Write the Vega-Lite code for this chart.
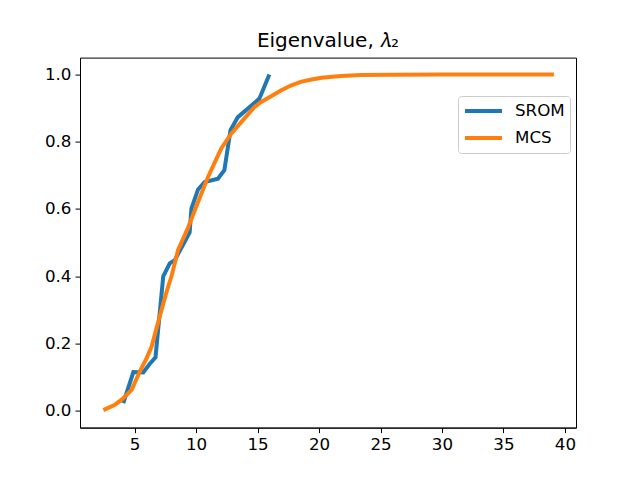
{
  "$schema": "https://vega.github.io/schema/vega-lite/v6.json",
  "width": 496,
  "height": 370,
  "autosize": "none",
  "padding": {"left": 80, "top": 57.6, "right": 64, "bottom": 52.4},
  "background": "white",
  "config": {
    "font": "DejaVu Sans",
    "view": {"stroke": "black", "strokeWidth": 1},
    "axis": {
      "grid": false,
      "domainColor": "black",
      "tickColor": "black",
      "tickSize": 5,
      "labelFontSize": 16.7,
      "labelColor": "black",
      "labelPadding": 4,
      "labelFont": "DejaVu Sans",
      "titleFontSize": 16.7
    }
  },
  "title": {
    "text": "Eigenvalue, 𝜆₂",
    "fontSize": 20,
    "fontWeight": "normal",
    "font": "DejaVu Sans",
    "color": "black",
    "anchor": "middle",
    "offset": 7
  },
  "data": {
    "values": [
      {"series": "SROM", "x": 4.08, "y": 0.023},
      {"series": "SROM", "x": 4.9, "y": 0.115},
      {"series": "SROM", "x": 5.7, "y": 0.114},
      {"series": "SROM", "x": 6.24, "y": 0.14},
      {"series": "SROM", "x": 6.7, "y": 0.159},
      {"series": "SROM", "x": 7.33, "y": 0.40},
      {"series": "SROM", "x": 7.86, "y": 0.438},
      {"series": "SROM", "x": 8.27, "y": 0.448},
      {"series": "SROM", "x": 9.48, "y": 0.53},
      {"series": "SROM", "x": 9.62, "y": 0.601},
      {"series": "SROM", "x": 10.16, "y": 0.658},
      {"series": "SROM", "x": 10.7, "y": 0.68},
      {"series": "SROM", "x": 11.78, "y": 0.69},
      {"series": "SROM", "x": 12.3, "y": 0.715},
      {"series": "SROM", "x": 12.8, "y": 0.834},
      {"series": "SROM", "x": 13.4, "y": 0.873},
      {"series": "SROM", "x": 15.15, "y": 0.928},
      {"series": "SROM", "x": 15.96, "y": 1.0},
      {"series": "MCS", "x": 2.46, "y": 0.002},
      {"series": "MCS", "x": 3.4, "y": 0.018},
      {"series": "MCS", "x": 3.95, "y": 0.033},
      {"series": "MCS", "x": 4.76, "y": 0.062},
      {"series": "MCS", "x": 5.43, "y": 0.117},
      {"series": "MCS", "x": 5.97, "y": 0.156},
      {"series": "MCS", "x": 6.38, "y": 0.19},
      {"series": "MCS", "x": 6.78, "y": 0.245},
      {"series": "MCS", "x": 7.19, "y": 0.30},
      {"series": "MCS", "x": 7.6, "y": 0.354},
      {"series": "MCS", "x": 8.0, "y": 0.40},
      {"series": "MCS", "x": 8.54, "y": 0.478},
      {"series": "MCS", "x": 9.3, "y": 0.54},
      {"series": "MCS", "x": 10.0, "y": 0.606},
      {"series": "MCS", "x": 10.97, "y": 0.695},
      {"series": "MCS", "x": 12.05, "y": 0.78},
      {"series": "MCS", "x": 12.86, "y": 0.824},
      {"series": "MCS", "x": 13.67, "y": 0.858},
      {"series": "MCS", "x": 14.75, "y": 0.903},
      {"series": "MCS", "x": 15.29, "y": 0.918},
      {"series": "MCS", "x": 16.1, "y": 0.935},
      {"series": "MCS", "x": 16.9, "y": 0.952},
      {"series": "MCS", "x": 17.7, "y": 0.967},
      {"series": "MCS", "x": 18.5, "y": 0.978},
      {"series": "MCS", "x": 19.4, "y": 0.985},
      {"series": "MCS", "x": 20.2, "y": 0.99},
      {"series": "MCS", "x": 21.8, "y": 0.995},
      {"series": "MCS", "x": 23.4, "y": 0.998},
      {"series": "MCS", "x": 26.0, "y": 0.999},
      {"series": "MCS", "x": 30.0, "y": 1.0},
      {"series": "MCS", "x": 39.1, "y": 1.0}
    ]
  },
  "encoding": {
    "x": {
      "field": "x",
      "type": "quantitative",
      "title": null,
      "scale": {"domain": [0.56, 40.9], "nice": false, "zero": false},
      "axis": {"values": [5, 10, 15, 20, 25, 30, 35, 40], "format": "d"}
    },
    "y": {
      "field": "y",
      "type": "quantitative",
      "title": null,
      "scale": {"domain": [-0.05, 1.05], "nice": false, "zero": false},
      "axis": {"values": [0, 0.2, 0.4, 0.6, 0.8, 1.0], "format": ".1f"}
    },
    "color": {
      "field": "series",
      "type": "nominal",
      "scale": {"domain": ["SROM", "MCS"], "range": ["#1f77b4", "#ff7f0e"]},
      "legend": {
        "title": null,
        "orient": "none",
        "legendX": 378,
        "legendY": 38.4,
        "symbolType": "stroke",
        "symbolStrokeWidth": 4,
        "symbolSize": 1369,
        "clipHeight": 20,
        "labelOffset": 11,
        "labelFontSize": 16.7,
        "labelColor": "black",
        "labelFont": "DejaVu Sans",
        "rowPadding": 7,
        "padding": 5,
        "strokeColor": "#cccccc",
        "cornerRadius": 3,
        "fillColor": "white"
      }
    }
  },
  "layer": [
    {
      "transform": [{"filter": "datum.series === 'SROM'"}],
      "mark": {"type": "line", "strokeWidth": 4}
    },
    {
      "transform": [{"filter": "datum.series === 'MCS'"}],
      "mark": {"type": "line", "strokeWidth": 4}
    }
  ]
}
